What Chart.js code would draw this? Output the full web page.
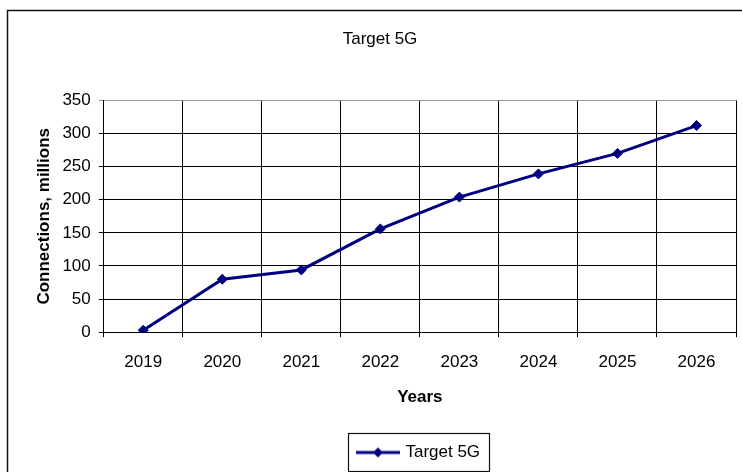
<!DOCTYPE html>
<html>
<head>
<meta charset="utf-8">
<title>Target 5G</title>
<script src="https://cdn.jsdelivr.net/npm/chart.js@4.4.0/dist/chart.umd.min.js"></script>
<style>
  html, body { margin: 0; padding: 0; background: #fff; }
  #wrap { width: 742px; height: 472px; }
</style>
</head>
<body>
<div id="wrap"><canvas id="target5g" width="742" height="472"></canvas></div>
<script>
// data
var years = ["2019", "2020", "2021", "2022", "2023", "2024", "2025", "2026"];
var connections = [3, 80, 94, 156, 204, 239, 270, 312];
var seriesName = "Target 5G";
var yTicks = [0, 50, 100, 150, 200, 250, 300, 350];

var navy = '#000080';
var fontFamily = "'Liberation Sans', Arial, sans-serif";

// little picture for the legend: line with a diamond in the middle
var legendMark = document.createElement('canvas');
legendMark.width = 44;
legendMark.height = 12;
(function () {
  var c = legendMark.getContext('2d');
  c.strokeStyle = navy;
  c.fillStyle = navy;
  c.lineWidth = 3;
  c.beginPath();
  c.moveTo(0, 6);
  c.lineTo(44, 6);
  c.stroke();
  c.beginPath();
  c.moveTo(22, 1);
  c.lineTo(27, 6);
  c.lineTo(22, 11);
  c.lineTo(17, 6);
  c.closePath();
  c.fill();
})();

var framePlugin = {
  id: 'frames',
  afterLayout: function (chart) {
    // legend sits right of centre in the original, title a bit left
    if (chart.legend) chart.legend.left += 70;
    if (chart.titleBlock) chart.titleBlock.left -= 9;
  },
  beforeDraw: function (chart) {
    var ctx = chart.ctx;
    ctx.save();
    ctx.fillStyle = '#fff';
    ctx.fillRect(0, 0, chart.width, chart.height);
    ctx.strokeStyle = '#111';
    ctx.lineWidth = 1.5;
    ctx.strokeRect(7.5, 10.5, chart.width + 20, chart.height + 20);
    ctx.restore();
  },
  afterDraw: function (chart) {
    var boxes = chart.legend && chart.legend.legendHitBoxes;
    if (!boxes || !boxes.length) return;
    var b = boxes[0];
    var ctx = chart.ctx;
    ctx.save();
    ctx.strokeStyle = '#111';
    ctx.lineWidth = 1.2;
    ctx.strokeRect(Math.round(b.left - 11) + 0.5, Math.round(b.top - 11) + 0.5,
      Math.round(b.width + 20), Math.round(b.height + 21));
    ctx.restore();
  }
};

var ctx5g = document.getElementById("target5g");
var target5gConfig = {
  type: 'line',
  data: {
    labels: years,
    datasets: [{
      label: seriesName,
      data: connections,
      borderColor: navy,
      backgroundColor: navy,
      borderWidth: 3,
      pointStyle: 'rectRot',
      pointRadius: 5,
      pointBorderWidth: 1,
      pointBackgroundColor: navy,
      pointBorderColor: navy,
      tension: 0,
      fill: false
    }]
  },
  options: {
    responsive: false,
    animation: false,
    layout: {
      padding: { left: 30, right: 3, top: 0, bottom: 1 }
    },
    plugins: {
      title: {
        display: true,
        text: seriesName,
        color: '#000',
        font: { family: fontFamily, size: 17, weight: 'normal' },
        padding: { top: 29, bottom: 51 }
      },
      legend: {
        display: true,
        position: 'bottom',
        labels: {
          color: '#000',
          font: { family: fontFamily, size: 17 },
          usePointStyle: true,
          pointStyleWidth: 38,
          padding: 10,
          generateLabels: function (chart) {
            var items = Chart.defaults.plugins.legend.labels.generateLabels(chart);
            items.forEach(function (it) { it.pointStyle = legendMark; });
            return items;
          }
        }
      },
      tooltip: { enabled: false }
    },
    scales: {
      x: {
        type: 'category',
        offset: true,
        grid: {
          offset: true,
          color: function (c) { return c.index === years.length ? '#999' : '#000'; },
          lineWidth: 1,
          tickLength: 5,
          drawTicks: true
        },
        border: { display: true, color: '#000', width: 1 },
        ticks: {
          color: '#000',
          font: { family: fontFamily, size: 17 },
          padding: 15,
          maxRotation: 0
        },
        title: {
          display: true,
          text: 'Years',
          color: '#000',
          font: { family: fontFamily, size: 17, weight: 'bold' },
          padding: { top: 0, bottom: 26 }
        }
      },
      y: {
        min: 0,
        max: 350,
        afterBuildTicks: function (scale) {
          scale.ticks = yTicks.map(function (v) { return { value: v }; });
        },
        grid: {
          color: function (c) { return c.tick && c.tick.value === 350 ? '#999' : '#000'; },
          lineWidth: 1,
          tickLength: 5,
          drawTicks: true
        },
        border: { display: true, color: '#000', width: 1 },
        ticks: {
          color: '#000',
          font: { family: fontFamily, size: 17 },
          padding: 8
        },
        title: {
          display: true,
          text: 'Connections, millions',
          color: '#000',
          font: { family: fontFamily, size: 17, weight: 'bold' },
          padding: { top: 4, bottom: 0 }
        }
      }
    }
  },
  plugins: [framePlugin]
};
var target5gChart = new Chart(ctx5g, target5gConfig);
</script>
</body>
</html>
